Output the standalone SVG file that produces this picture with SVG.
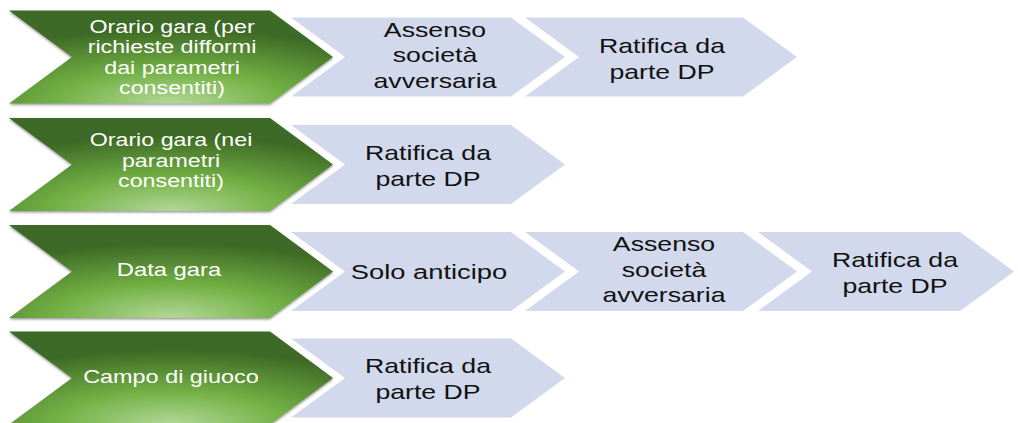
<svg xmlns="http://www.w3.org/2000/svg" width="1018" height="423" viewBox="0 0 1018 423">
  <defs>
    <radialGradient id="gg" cx="0.5" cy="1" r="0.8" gradientUnits="objectBoundingBox">
      <stop offset="0" stop-color="#b2d897"/>
      <stop offset="0.45" stop-color="#72b044"/>
      <stop offset="1" stop-color="#3e6a25"/>
    </radialGradient>
    <filter id="sh" x="-5%" y="-5%" width="110%" height="115%">
      <feDropShadow dx="0" dy="1.5" stdDeviation="0.8" flood-color="#555" flood-opacity="0.6"/>
    </filter>
    <style>
      .green { fill: url(#gg); filter: url(#sh); }
      .blue { fill: #d2d9ed; }
      .wt { font-family: "Liberation Sans", Arial, sans-serif; font-size: 18.3px; fill: #ffffff; text-anchor: middle; }
      .bt { font-family: "Liberation Sans", Arial, sans-serif; font-size: 21px; fill: #111111; text-anchor: middle; }
    </style>
  </defs>
  <rect width="1018" height="423" fill="#ffffff"/>

  <g id="connectors"></g>

  <!-- Row 1 -->
  <g id="row1-green">
    <path class="green" d="M9,10.5 L270,10.5 L333,57 L270,103.5 L9,103.5 L72,57 Z"/>
    <g transform="translate(172,0) scale(1.27,1)">
      <text class="wt" x="0" y="33">Orario gara (per</text>
      <text class="wt" x="0" y="53.5">richieste difformi</text>
      <text class="wt" x="0" y="74">dai parametri</text>
      <text class="wt" x="0" y="94.5">consentiti)</text>
    </g>
  </g>
  <g id="row1-assenso">
    <path class="blue" d="M291,17.5 L511,17.5 L565,57 L511,96.5 L291,96.5 L345,57 Z"/>
    <g transform="translate(435,0) scale(1.27,1)">
      <text class="bt" x="0" y="37">Assenso</text>
      <text class="bt" x="0" y="62.5">società</text>
      <text class="bt" x="0" y="88">avversaria</text>
    </g>
  </g>
  <g id="row1-ratifica">
    <path class="blue" d="M525,17.5 L743,17.5 L797,57 L743,96.5 L525,96.5 L579,57 Z"/>
    <g transform="translate(662,0) scale(1.27,1)">
      <text class="bt" x="0" y="53">Ratifica da</text>
      <text class="bt" x="0" y="79">parte DP</text>
    </g>
  </g>

  <!-- Row 2 -->
  <g id="row2-green">
    <path class="green" d="M9,118 L270,118 L333,164.5 L270,211 L9,211 L72,164.5 Z"/>
    <g transform="translate(171,0) scale(1.27,1)">
      <text class="wt" x="0" y="146.5">Orario gara (nei</text>
      <text class="wt" x="0" y="167">parametri</text>
      <text class="wt" x="0" y="187.5">consentiti)</text>
    </g>
  </g>
  <g id="row2-ratifica">
    <path class="blue" d="M291,125 L511,125 L565,164.5 L511,204 L291,204 L345,164.5 Z"/>
    <g transform="translate(428,0) scale(1.27,1)">
      <text class="bt" x="0" y="160">Ratifica da</text>
      <text class="bt" x="0" y="186">parte DP</text>
    </g>
  </g>

  <!-- Row 3 -->
  <g id="row3-green">
    <path class="green" d="M9,225 L270,225 L333,271.5 L270,318 L9,318 L72,271.5 Z"/>
    <g transform="translate(169,0) scale(1.3,1)">
      <text class="wt" x="0" y="276.5">Data gara</text>
    </g>
  </g>
  <g id="row3-solo">
    <path class="blue" d="M291,232 L511,232 L565,271.5 L511,311 L291,311 L345,271.5 Z"/>
    <g transform="translate(429,0) scale(1.3,1)">
      <text class="bt" x="0" y="279">Solo anticipo</text>
    </g>
  </g>
  <g id="row3-assenso">
    <path class="blue" d="M525,232 L743,232 L797,271.5 L743,311 L525,311 L579,271.5 Z"/>
    <g transform="translate(664,0) scale(1.27,1)">
      <text class="bt" x="0" y="251.5">Assenso</text>
      <text class="bt" x="0" y="277">società</text>
      <text class="bt" x="0" y="302.5">avversaria</text>
    </g>
  </g>
  <g id="row3-ratifica">
    <path class="blue" d="M758,232 L960,232 L1014,271.5 L960,311 L758,311 L812,271.5 Z"/>
    <g transform="translate(895,0) scale(1.27,1)">
      <text class="bt" x="0" y="267">Ratifica da</text>
      <text class="bt" x="0" y="293">parte DP</text>
    </g>
  </g>

  <!-- Row 4 -->
  <g id="row4-green">
    <path class="green" d="M9,331.5 L270,331.5 L333,378 L270,424.5 L9,424.5 L72,378 Z"/>
    <g transform="translate(171,0) scale(1.28,1)">
      <text class="wt" x="0" y="383.5">Campo di giuoco</text>
    </g>
  </g>
  <g id="row4-ratifica">
    <path class="blue" d="M291,338.5 L511,338.5 L565,378 L511,417.5 L291,417.5 L345,378 Z"/>
    <g transform="translate(428,0) scale(1.27,1)">
      <text class="bt" x="0" y="373.5">Ratifica da</text>
      <text class="bt" x="0" y="399.5">parte DP</text>
    </g>
  </g>
</svg>
